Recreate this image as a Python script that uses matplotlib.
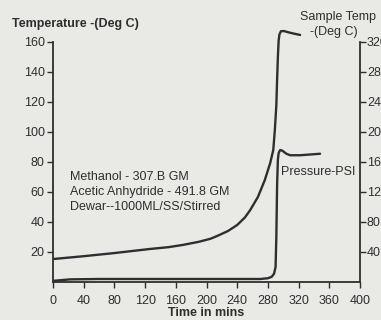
import matplotlib
matplotlib.use("Agg")
import matplotlib.pyplot as plt

# sample temperature (deg C, left scale) vs time (mins)
temp_t = [0, 40, 80, 126, 150, 169, 190, 205, 214, 228, 240, 250, 257, 267, 276, 283, 287,
          289, 291, 292, 293, 294, 295, 297, 301, 305, 312, 322]
temp_v = [15.3, 17.2, 19.3, 22, 23.2, 24.7, 26.8, 28.8, 30.7, 34, 38, 43, 48, 56.7, 68, 79.3, 88,
          101, 118, 135, 150, 161, 165, 167.2, 167.3, 166.7, 165.8, 164.7]

# pressure (PSI, right scale) vs time (mins)
pres_t = [0, 22, 60, 150, 240, 270, 280, 285, 288, 290, 291, 292, 293, 294, 296, 299, 304, 309, 322, 348]
pres_v = [1.5, 3.5, 4, 4, 4, 4, 5, 7, 11, 20, 60, 130, 163, 172, 176, 175, 171, 169, 169, 171]

x_ticks = [0, 40, 80, 120, 160, 200, 240, 280, 320, 360, 400]
left_ticks = [20, 40, 60, 80, 100, 120, 140, 160]
right_ticks = [40, 80, 120, 160, 200, 240, 280, 320]
notes = ["Methanol - 307.B GM", "Acetic Anhydride - 491.8 GM", "Dewar--1000ML/SS/Stirred"]

plt.rcParams['font.family'] = ['Liberation Sans', 'DejaVu Sans']
ink = "#2e2e2e"
paper = "#e9e9e6"

fig = plt.figure(figsize=(3.81, 3.20), dpi=100, facecolor=paper)
ax = fig.add_axes([53/381, 1 - 282/320, 307/381, 262.5/320])
ax.set_facecolor("none")
ax2 = ax.twinx()
ax2.set_position(ax.get_position())

ax.set_xlim(0, 400)
ax.set_ylim(0, 175)
ax2.set_ylim(0, 350)

ax.plot(temp_t, temp_v, color=ink, lw=1.7, solid_capstyle="round", solid_joinstyle="round")
ax2.plot(pres_t, pres_v, color=ink, lw=1.7, solid_capstyle="round", solid_joinstyle="round")

for a in (ax, ax2):
    a.spines["top"].set_visible(False)
    for s in a.spines.values():
        s.set_color(ink)
        s.set_linewidth(1.3)
ax.spines["right"].set_visible(False)
ax2.spines["left"].set_visible(False)
ax2.spines["bottom"].set_visible(False)
ax.spines["left"].set_bounds(0, 160)
ax2.spines["right"].set_bounds(0, 320)

ax.set_xticks(x_ticks)
ax.set_yticks(left_ticks)
ax2.set_yticks(right_ticks)
ax.tick_params(axis="both", direction="out", length=4, width=1.0, color=ink,
               labelcolor=ink, labelsize=9, pad=2)
ax.tick_params(axis="x", pad=5)
ax2.tick_params(axis="y", direction="out", length=4, width=1.0, color=ink,
                labelcolor=ink, labelsize=9, pad=1)

ax.set_xlabel("Time in mins", fontsize=9, fontweight="bold", color=ink, labelpad=0)

fig.text(12/381, 1 - 24/320, "Temperature -(Deg C)", fontsize=9, fontweight="bold",
         color=ink, va="center", ha="left")
fig.text(300/381, 1 - 17/320, "Sample Temp", fontsize=9, color=ink, va="center", ha="left")
fig.text(310/381, 1 - 32/320, "-(Deg C)", fontsize=9, color=ink, va="center", ha="left")
fig.text(281/381, 1 - 172/320, "Pressure-PSI", fontsize=9, color=ink, va="center", ha="left")

for i, line in enumerate(notes):
    fig.text(70/381, 1 - (177 + 15 * i)/320, line, fontsize=9, color=ink, va="center", ha="left")

fig.savefig("out.png", dpi=100, facecolor=paper)
